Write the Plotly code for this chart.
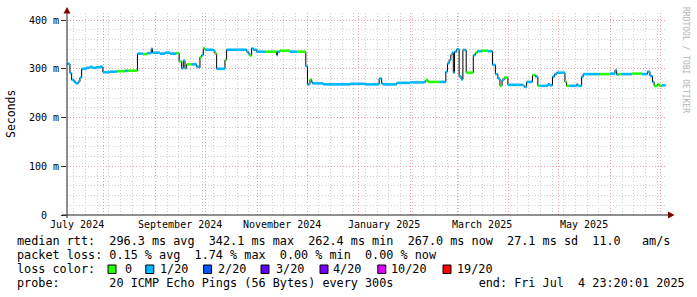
import plotly.graph_objects as go
import pandas as pd

# ---------------- data ----------------
range_start = "2024-07-09 23:20:01"
range_end = "2025-07-04 23:20:01"
last_sample_end = "2025-07-04 03:00"

sample_times = [
    "2024-07-10 00:00", "2024-07-11 18:00", "2024-07-12 18:00", "2024-07-14 06:00", "2024-07-15 06:00",
    "2024-07-16 18:00", "2024-07-17 18:00", "2024-07-18 18:00", "2024-07-21 18:00", "2024-07-23 18:00",
    "2024-07-25 00:00", "2024-07-27 12:00", "2024-07-29 18:00", "2024-07-31 12:00", "2024-08-04 18:00",
    "2024-08-08 18:00", "2024-08-13 18:00", "2024-08-15 12:00", "2024-08-21 06:00", "2024-08-24 12:00",
    "2024-08-27 00:00", "2024-08-29 12:00", "2024-08-30 06:00", "2024-09-03 18:00", "2024-09-06 18:00",
    "2024-09-09 18:00", "2024-09-13 12:00", "2024-09-15 06:00", "2024-09-16 18:00", "2024-09-17 18:00",
    "2024-09-18 18:00", "2024-09-19 18:00", "2024-09-23 00:00", "2024-09-25 18:00", "2024-09-27 06:00",
    "2024-09-27 18:00", "2024-09-28 18:00", "2024-09-29 18:00", "2024-09-30 18:00", "2024-10-05 18:00",
    "2024-10-06 18:00", "2024-10-07 18:00", "2024-10-12 18:00", "2024-10-13 18:00", "2024-10-25 18:00",
    "2024-10-26 18:00", "2024-10-27 18:00", "2024-10-28 18:00", "2024-10-29 18:00", "2024-10-31 18:00",
    "2024-11-05 18:00", "2024-11-12 18:00", "2024-11-13 06:00", "2024-11-14 18:00", "2024-11-20 18:00",
    "2024-11-25 00:00", "2024-11-30 06:00", "2024-12-01 06:00", "2024-12-02 18:00", "2024-12-03 18:00",
    "2024-12-04 06:00", "2024-12-10 18:00", "2024-12-26 18:00", "2025-01-04 18:00", "2025-01-13 06:00",
    "2025-01-14 18:00", "2025-01-15 12:00", "2025-01-23 18:00", "2025-01-31 18:00", "2025-02-09 06:00",
    "2025-02-10 06:00", "2025-02-11 12:00", "2025-02-18 18:00", "2025-02-22 06:00", "2025-02-23 06:00",
    "2025-02-24 06:00", "2025-02-25 06:00", "2025-02-26 00:00", "2025-02-26 18:00", "2025-02-27 12:00",
    "2025-02-28 18:00", "2025-03-02 06:00", "2025-03-03 12:00", "2025-03-04 12:00", "2025-03-05 12:00",
    "2025-03-06 12:00", "2025-03-10 18:00", "2025-03-12 00:00", "2025-03-13 06:00", "2025-03-15 18:00",
    "2025-03-19 12:00", "2025-03-22 06:00", "2025-03-24 00:00", "2025-03-25 12:00", "2025-03-26 18:00",
    "2025-03-28 00:00", "2025-03-29 06:00", "2025-03-31 12:00", "2025-04-09 12:00", "2025-04-10 06:00",
    "2025-04-11 18:00", "2025-04-15 06:00", "2025-04-17 00:00", "2025-04-18 12:00", "2025-04-19 18:00",
    "2025-04-24 12:00", "2025-04-25 18:00", "2025-04-27 06:00", "2025-04-28 12:00", "2025-04-29 18:00",
    "2025-05-04 18:00", "2025-05-05 18:00", "2025-05-07 18:00", "2025-05-11 18:00", "2025-05-12 12:00",
    "2025-05-14 18:00", "2025-05-15 18:00", "2025-05-25 18:00", "2025-05-31 18:00", "2025-06-03 18:00",
    "2025-06-04 18:00", "2025-06-05 18:00", "2025-06-08 00:00", "2025-06-14 00:00", "2025-06-20 00:00",
    "2025-06-23 06:00", "2025-06-24 18:00", "2025-06-26 06:00", "2025-06-27 06:00", "2025-06-29 06:00",
    "2025-06-30 06:00", "2025-07-02 00:00",
]

median_ms = [
    310, 291, 277, 273, 270,
    274, 282, 300, 302, 304,
    302, 303, 304, 293, 294,
    295, 296, 296, 331, 330,
    332, 341, 333, 331, 333,
    331, 332, 315, 301, 317,
    301, 309, 309, 304, 302,
    324, 328, 342, 339, 337,
    331, 300, 318, 339, 335,
    331, 327, 342, 339, 335,
    335, 328, 335, 337, 335,
    335, 305, 268, 278, 273,
    270, 268, 269, 268, 280,
    270, 268, 271, 272, 273,
    277, 273, 273, 294, 311,
    318, 328, 333, 292, 335,
    340, 284, 278, 339, 338,
    292, 328, 333, 336, 337,
    336, 308, 289, 280, 265,
    277, 282, 267, 266, 263,
    273, 287, 284, 265, 265,
    268, 266, 284, 289, 292,
    273, 265, 265, 268, 265,
    284, 289, 289, 290, 297,
    288, 289, 289, 290, 289,
    294, 285, 273, 265, 268,
    265, 266,
]

# lost pings out of 20 for each sample
loss_count = [
    1, 1, 1, 1, 1,
    1, 1, 1, 1, 1,
    1, 1, 1, 1, 1,
    0, 1, 0, 1, 0,
    1, 1, 1, 1, 1,
    1, 0, 0, 1, 1,
    1, 0, 1, 1, 1,
    0, 1, 0, 1, 1,
    0, 1, 0, 1, 1,
    1, 0, 1, 1, 1,
    0, 1, 1, 0, 1,
    0, 1, 1, 0, 1,
    1, 1, 1, 1, 1,
    1, 1, 1, 1, 1,
    0, 0, 1, 1, 1,
    1, 1, 1, 1, 1,
    1, 1, 1, 1, 1,
    0, 1, 0, 1, 0,
    1, 1, 1, 1, 0,
    1, 0, 1, 0, 1,
    1, 0, 1, 0, 1,
    1, 1, 1, 1, 1,
    0, 0, 1, 1, 1,
    1, 1, 0, 1, 1,
    1, 0, 1, 0, 1,
    1, 1, 1, 0, 0,
    0, 1,
]

loss_levels = [0, 1, 2, 3, 4, 10, 19]
loss_labels = ["0", "1/20", "2/20", "3/20", "4/20", "10/20", "19/20"]
loss_colors = ["#26ff00", "#00b8ff", "#0059ff", "#5e00ff", "#7e00ff", "#dd00ff", "#ff0000"]

y_tick_vals = [0, 0.1, 0.2, 0.3, 0.4]
y_tick_text = ["0\u00a0\u00a0", "100 m", "200 m", "300 m", "400 m"]

month_label_dates = ["2024-07-16", "2024-09-16", "2024-11-16", "2025-01-16", "2025-03-16", "2025-05-16"]
month_label_text = ["July 2024", "September 2024", "November 2024", "January 2025", "March 2025", "May 2025"]

legend_rtt = "median rtt:  296.3 ms avg  342.1 ms max  262.4 ms min  267.0 ms now  27.1 ms sd  11.0   am/s"
legend_loss = "packet loss: 0.15 % avg  1.74 % max  0.00 % min  0.00 % now"
legend_probe = "probe:       20 ICMP Echo Pings (56 Bytes) every 300s            end: Fri Jul  4 23:20:01 2025"

# ---------------- geometry helpers (layout only) ----------------
W, H = 697, 297
L, R, T, B = 67, 30, 13, 82
PW, PH = W - L - R, H - T - B
Y_MAX = 0.4 * PH / 195.0


def px(x):
    return (x - L) / PW


def py(y):
    return (H - B - y) / PH


MONO = "DejaVu Sans Mono"

fig = go.Figure()

times = pd.to_datetime(sample_times)
values_s = [v / 1000.0 for v in median_ms]
step_x = list(times) + [pd.Timestamp(last_sample_end)]
step_y = values_s + [values_s[-1]]

# black step outline of the median
fig.add_trace(go.Scatter(x=step_x, y=step_y, mode="lines", line=dict(color="#000000", width=1, shape="hv"),
                         hoverinfo="skip", showlegend=False))

# coloured median segments by packet loss
for lvl, col in zip(loss_levels, loss_colors):
    xs, ys = [], []
    for i, v in enumerate(values_s):
        if loss_count[i] == lvl:
            xs += [step_x[i], step_x[i + 1], None]
            ys += [v, v, None]
    if xs:
        fig.add_trace(go.Scatter(x=xs, y=ys, mode="lines", line=dict(color=col, width=2.6),
                                 hoverinfo="skip", showlegend=False))

month_starts = pd.date_range("2024-08-01", "2025-07-01", freq="MS")
week_starts = pd.date_range("2024-07-14", "2025-07-04", freq="7D")

GRID_MAJOR = "#eba0a0"
GRID_MINOR = "#cfcfcf"
DASH = "1px,2px"

fig.update_layout(
    width=W, height=H,
    margin=dict(l=L, r=R, t=T, b=B, pad=0),
    paper_bgcolor="#ffffff", plot_bgcolor="#ffffff",
    showlegend=False,
    xaxis=dict(
        type="date", range=[range_start, range_end],
        tickmode="array", tickvals=list(month_starts), showticklabels=False,
        ticks="", showgrid=True, gridcolor=GRID_MAJOR, griddash=DASH, gridwidth=1,
        minor=dict(tickmode="array", tickvals=list(week_starts), showgrid=True,
                   gridcolor=GRID_MINOR, griddash=DASH, gridwidth=1, ticks=""),
        zeroline=False, showline=False,
    ),
    yaxis=dict(
        range=[0, Y_MAX], tickmode="array", tickvals=y_tick_vals, ticktext=y_tick_text,
        ticks="outside", ticklen=5, tickcolor="#333333", tickwidth=1,
        tickfont=dict(family=MONO, size=10, color="#000000"),
        showgrid=True, gridcolor=GRID_MAJOR, griddash=DASH, gridwidth=1,
        minor=dict(dtick=0.02, tick0=0, showgrid=True, gridcolor=GRID_MINOR, griddash=DASH,
                   gridwidth=1, ticks=""),
        zeroline=False, showline=False,
    ),
)

AXIS_COL = "#202020"
ARROW_COL = "#7f0000"
shapes = [
    dict(type="line", xref="paper", yref="paper", x0=0, x1=0, y0=py(218), y1=py(11),
         line=dict(color=AXIS_COL, width=1)),
    dict(type="line", xref="paper", yref="paper", x0=px(62), x1=px(670), y0=0, y1=0,
         line=dict(color=AXIS_COL, width=1)),
    dict(type="path", xref="paper", yref="paper",
         path=f"M {px(63.5)},{py(13.5)} L {px(70.5)},{py(13.5)} L {px(67)},{py(7)} Z",
         fillcolor=ARROW_COL, line=dict(color=ARROW_COL, width=0)),
    dict(type="path", xref="paper", yref="paper",
         path=f"M {px(668)},{py(211.5)} L {px(668)},{py(218.5)} L {px(674.5)},{py(215)} Z",
         fillcolor=ARROW_COL, line=dict(color=ARROW_COL, width=0)),
]

annotations = []
for d, t in zip(month_label_dates, month_label_text):
    annotations.append(dict(x=d, xref="x", y=py(224.5), yref="paper", text=t, showarrow=False,
                            xanchor="center", yanchor="middle", borderpad=0,
                            font=dict(family=MONO, size=10, color="#000000")))

annotations.append(dict(x=px(11), y=py(114), xref="paper", yref="paper", text="Seconds", textangle=-90,
                        showarrow=False, xanchor="center", yanchor="middle", borderpad=0,
                        font=dict(family=MONO, size=11.5, color="#000000")))
annotations.append(dict(x=px(686), y=py(60), xref="paper", yref="paper", text="RRDTOOL / TOBI OETIKER",
                        textangle=90, showarrow=False, xanchor="center", yanchor="middle", borderpad=0,
                        font=dict(family=MONO, size=8, color="#b4b4b4")))

LEG_FONT = dict(family=MONO, size=11.8, color="#000000")
for text, yy in [(legend_rtt, 241), (legend_loss, 255), ("loss color:", 269), (legend_probe, 283)]:
    annotations.append(dict(x=px(16), y=py(yy), xref="paper", yref="paper",
                            text=text.replace(" ", "\u00a0"), showarrow=False,
                            xanchor="left", yanchor="middle", borderpad=0, font=LEG_FONT))

box_x = [108, 145.8, 203.6, 261, 320, 377.8, 443]
label_x = [124.4, 159, 217, 274.7, 332, 390, 456]
for bx, lx, lab, col in zip(box_x, label_x, loss_labels, loss_colors):
    shapes.append(dict(type="rect", xref="paper", yref="paper",
                       x0=px(bx), x1=px(bx + 8), y0=py(273.5), y1=py(265),
                       fillcolor=col, line=dict(color="#000000", width=1)))
    annotations.append(dict(x=px(lx), y=py(269), xref="paper", yref="paper", text=lab, showarrow=False,
                            xanchor="left", yanchor="middle", borderpad=0, font=LEG_FONT))

fig.update_layout(shapes=shapes, annotations=annotations)

fig.write_html("out.html")
